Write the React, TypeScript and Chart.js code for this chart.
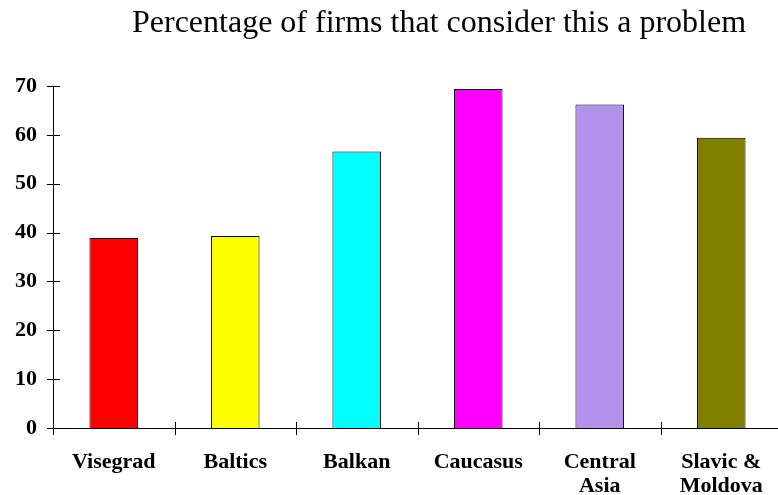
import React, { useEffect, useRef } from 'react';
import { Chart, registerables } from 'chart.js';

Chart.register(...registerables);

const chartTitle = 'Percentage of firms that consider this a problem';
const categories: string[][] = [
  ['Visegrad'],
  ['Baltics'],
  ['Balkan'],
  ['Caucasus'],
  ['Central', 'Asia'],
  ['Slavic &', 'Moldova'],
];
const values = [38.9, 39.3, 56.6, 69.4, 66.2, 59.4];
const barColors = ['#FF0000', '#FFFF00', '#00FFFF', '#FF00FF', '#B491EB', '#808000'];
const yMin = 0;
const yMax = 70;
const yStep = 10;

const FONT = '"Liberation Serif", "Times New Roman", serif';

const axesPlugin = {
  id: 'customAxes',
  afterDraw(chart: any) {
    const ctx = chart.ctx;
    const xs = chart.scales.x;
    const ys = chart.scales.y;
    const x0 = Math.round(xs.left) + 0.5;
    const yb = Math.round(ys.getPixelForValue(yMin)) + 0.5;
    const yt = Math.round(ys.getPixelForValue(yMax)) + 0.5;
    const tick = 6.5;
    ctx.save();
    ctx.strokeStyle = '#000';
    ctx.lineWidth = 1;
    ctx.beginPath();
    ctx.moveTo(x0, yt);
    ctx.lineTo(x0, yb + tick);
    ctx.moveTo(x0, yb);
    ctx.lineTo(xs.right + 10, yb);
    for (let v = yMin; v <= yMax; v += yStep) {
      const py = Math.round(ys.getPixelForValue(v)) + 0.5;
      ctx.moveTo(x0 - tick, py);
      ctx.lineTo(x0 + tick, py);
    }
    const n = categories.length;
    const spacing = (xs.right - xs.left) / n;
    for (let i = 1; i <= n; i++) {
      const px = Math.round(xs.getPixelForValue(i - 1) + spacing / 2) + 0.5;
      ctx.moveTo(px, yb - tick);
      ctx.lineTo(px, yb + tick);
    }
    ctx.stroke();
    ctx.fillStyle = '#000';
    ctx.font = `32px ${FONT}`;
    ctx.textAlign = 'center';
    ctx.textBaseline = 'alphabetic';
    ctx.fillText(chartTitle, 439, 32);
    ctx.restore();
  },
};

export default function App() {
  const ref = useRef<HTMLCanvasElement | null>(null);
  useEffect(() => {
    if (!ref.current) return;
    const chart = new Chart(ref.current, {
      type: 'bar',
      data: {
        labels: categories,
        datasets: [
          {
            data: values,
            backgroundColor: barColors,
            borderColor: '#000',
            borderWidth: 1,
            categoryPercentage: 1,
            barPercentage: 0.4,
          },
        ],
      },
      options: {
        responsive: false,
        animation: false,
        devicePixelRatio: 1,
        layout: { padding: { top: 86, right: 8, left: 0, bottom: 0 } },
        plugins: { legend: { display: false }, title: { display: false }, tooltip: { enabled: false } },
        scales: {
          x: {
            type: 'category',
            offset: true,
            grid: { display: false, drawTicks: false },
            border: { display: false },
            ticks: {
              color: '#000',
              font: { family: FONT, size: 22, weight: 'bold', lineHeight: 24 / 22 },
              padding: 22,
              maxRotation: 0,
              autoSkip: false,
            },
            afterFit: (s: any) => {
              s.height = 67;
            },
          },
          y: {
            min: yMin,
            max: yMax,
            grid: { display: false, drawTicks: false },
            border: { display: false },
            ticks: {
              stepSize: yStep,
              color: '#000',
              font: { family: FONT, size: 22, weight: 'bold' },
              padding: 16,
            },
            afterFit: (s: any) => {
              s.width = 53;
            },
          },
        },
      },
      plugins: [axesPlugin],
    });
    return () => chart.destroy();
  }, []);
  return (
    <div
      style={{
        position: 'fixed',
        left: 0,
        top: 0,
        width: 778,
        height: 495,
        overflow: 'hidden',
        background: '#fff',
      }}
    >
      <canvas ref={ref} width={790} height={495} style={{ display: 'block', width: 790, height: 495 }} />
    </div>
  );
}
